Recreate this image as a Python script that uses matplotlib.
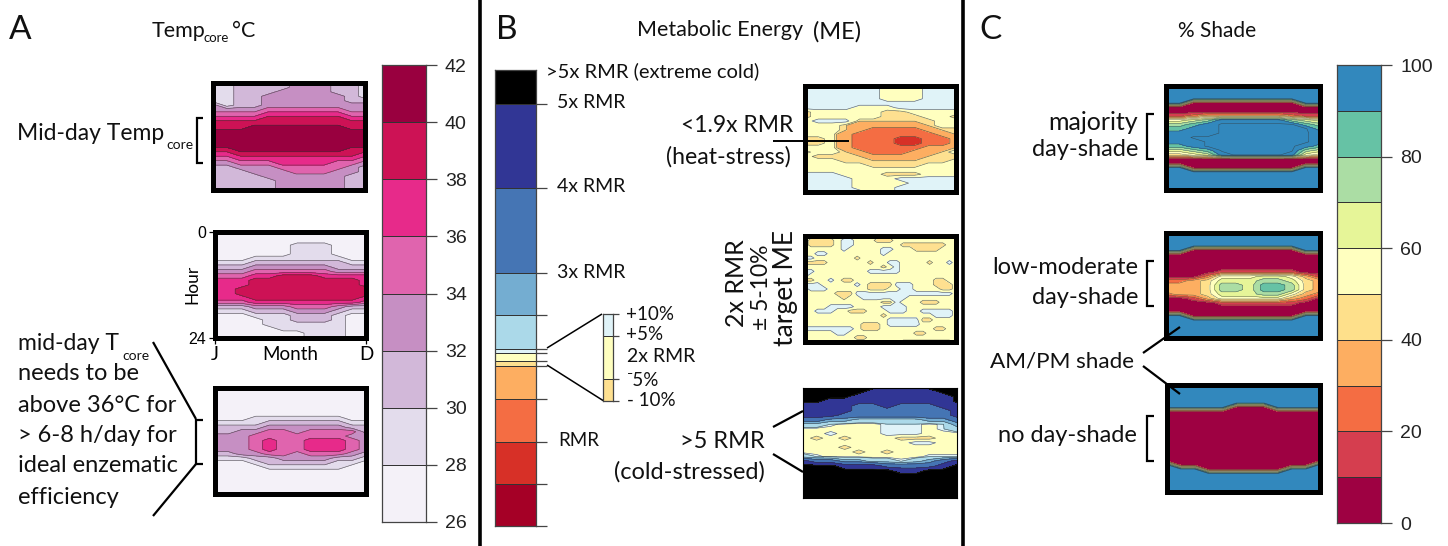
import matplotlib
matplotlib.use('Agg')
import matplotlib.pyplot as plt
from matplotlib.colors import ListedColormap
import numpy

W = 1448
H = 546

# colour bands
temp_levels = [26, 28, 30, 32, 34, 36, 38, 40, 42]
temp_mids = [27, 29, 31, 33, 35, 37, 39, 41]
temp_colors = ['#f4f1f8', '#e3dcec', '#d2b8d9', '#c68fc3', '#e064ae', '#e72a8a', '#cd1255', '#99003f']
temp_ticks = [26, 28, 30, 32, 34, 36, 38, 40, 42]

rmr_levels = [0, 0.5, 1, 1.5, 1.9, 1.95, 2.05, 2.1, 2.5, 3, 4, 5, 5.4]
rmr_mids = [0.25, 0.75, 1.25, 1.7, 1.91, 2.0, 2.09, 2.3, 2.75, 3.5, 4.5, 5.2]
rmr_colors = ['#a50026', '#d73027', '#f46d43', '#fdae61', '#fee090', '#ffffbf',
              '#e0f3f8', '#abd9e9', '#74add1', '#4575b4', '#313695', '#000000']
rmr_ticks = [0, 0.5, 1, 1.5, 1.9, 1.95, 2.05, 2.1, 2.5, 3, 4, 5]

shade_levels = [0, 10, 20, 30, 40, 50, 60, 70, 80, 90, 100]
shade_colors = ['#9e0142', '#d53e4f', '#f46d43', '#fdae61', '#fee08b',
                '#ffffbf', '#e6f598', '#abdda4', '#66c2a5', '#3288bd']
shade_ticks = [0, 20, 40, 60, 80, 100]
# the maps also have a faint line just below 100 %
shade_map_levels = [0, 10, 20, 30, 40, 50, 60, 70, 80, 90, 99, 101]
shade_mids = [5, 15, 25, 35, 45, 55, 65, 75, 85, 95, 100]
shade_map_colors = shade_colors + ['#3288bd']

# each character is the colour band of one month (column) and hour (row)
temp_high = [
    '112222333221', '112222333221', '112223333221', '112233333321', '112233333322',
    '312233333333', '333344444433', '444455555544', '555566666655', '666666666666',
    '666777777766', '777777777777', '777777777777', '777777777777', '777777777777',
    '667777777766', '556666666665', '445555555554', '334445555443', '223334444432',
    '222333444332', '222233333322', '222223333322', '222223333322', '222223333322']
temp_mid = [
    '000000000000', '000000000000', '000000000000', '000000111000', '000000111000',
    '000000111000', '000111111100', '111222222211', '222333333222', '333444444333',
    '444556665555', '555666666665', '555666666665', '556666666666', '556666666666',
    '555666666665', '444555555554', '222333444322', '111222333211', '000111222100',
    '000011222100', '000011111100', '000001111100', '000000011100', '000000011100']
temp_low = [
    '000000000000', '000000000000', '000000000000', '000000000000', '000000000000',
    '000000000000', '000000000000', '000111111100', '111122222211', '222233333322',
    '223344344442', '333444444433', '333454455543', '333454455543', '333454455543',
    '223344344432', '111223333221', '000122222110', '000011111100', '000000000000',
    '000000000000', '000000000000', '000000000000', '000000000000', '000000000000']

rmr_high = [
    '666666555666', '666666555666', '666666555666', '666666555666', '666666666666',
    '666655566666', '455555445555', '455555444554', '566644444455', '555433333455',
    '555432222344', '555322222234', '445322211223', '445322211223', '555322222334',
    '455432223345', '544443333444', '555444444445', '555554444555', '555555555555',
    '666555444555', '666655566666', '666655556666', '666655566666', '666665566666']
rmr_mid = [
    '555555555555555666555555', '544445665554445555555555', '544445665555555444444455',
    '555555655555665554444555', '556655555555655555555555', '665555554555555555555555',
    '444455555545566555545565', '555555555555456555555555', '665555555566666555555555',
    '655555555555555555555555', '445565445555555555554455', '666555556544446665554445',
    '566655555544455665555445', '555554446666666666666665', '555555455666666655555555',
    '555555555555446555444555', '555566665555666655555555', '556665544455566655666665',
    '555555555555455555556665', '555555555555566666445555', '555555555444566666555555',
    '666666665444555555554455', '555556655555555554455555', '555555554455555555555555',
    '555555555555555666666665']
rmr_low = [
    'bbbbbbbbbbbb', 'bbbbbaaaaabb', 'bbbbaaaaaaab', 'bbaaaaaaaaab', 'aaaa99a999aa',
    'aaaa9999999a', 'aaa99999999a', '998877777889', '776555666568', '555555666567',
    '556555666555', '545455544455', '555555556655', '555455555555', '555545455555',
    '765555555666', 'a9988776789a', 'bbbaaa9999ab', 'bbbbbbbaabbb', 'bbbbbbbbbbbb',
    'bbbbbbbbbbbb', 'bbbbbbbbbbbb', 'bbbbbbbbbbbb', 'bbbbbbbbbbbb', 'bbbbbbbbbbbb']

shade_most = [
    '999999999999', '999999999999', '999999999999', '999999999999', '990000000099',
    '000000000000', '000000000000', '112333333211', '556799999765', '7789aaaaaa87',
    '8899aaaaaaa8', '9999aaaaaaa9', '99aaaaaaaaa9', '999aaaaaaaa9', '889aaaaaaa98',
    '6678aaaaaa76', '44569aaaa954', '000000000000', '000000000000', '990000000099',
    '999999999999', '999999999999', '999999999999', '999999999999', '999999999999']
shade_some = [
    '999999999999', '999999999999', '999999999999', '999999999999', '990000000099',
    '000000000000', '000000000000', '000000000000', '000000000000', '000011111100',
    '000255566531', '223466677643', '333477688743', '333477688743', '233466677532',
    '001355555320', '000011111100', '000000000000', '000000000000', '990000000099',
    '999999999999', '999999999999', '999999999999', '999999999999', '999999999999']
shade_none = [
    '999999999999', '999999999999', '999999999999', '999999999999', '999999999999',
    '999990009999', '000000000000', '000000000000', '000000000000', '000000000000',
    '000000000000', '000000000000', '000000000000', '000000000000', '000000000000',
    '000000000000', '000000000000', '000000000000', '900000000009', '999000000999',
    '999999999999', '999999999999', '999999999999', '999999999999', '999999999999']

inset_levels = [-10, -5, 5, 10]
inset_colors = ['#fee090', '#ffffbf', '#e0f3f8']


def new_axes(x0, x1, y0, y1):
    return fig.add_axes([x0 / W, 1 - y1 / H, (x1 - x0) / W, (y1 - y0) / H])


def draw_map(box, rows, levels, mids, colors, border=3.6, line_w=0.45):
    ax = new_axes(*box)
    z = numpy.array([[mids[int(c, 16)] for c in r] for r in rows])
    x = numpy.linspace(1, 12, z.shape[1])
    y = numpy.linspace(0, 24, z.shape[0])
    ax.contourf(x, y, z, levels=levels, colors=colors)
    ax.contour(x, y, z, levels=levels[1:-1], colors='#333333', linewidths=line_w, alpha=0.75)
    ax.set_ylim(24, 0)
    ax.set_xticks([])
    ax.set_yticks([])
    for s in ax.spines.values():
        s.set_linewidth(border)
        s.set_color('black')
    return ax


def draw_bar(box, levels, colors, ticks, labels, tick_len=8):
    ax = new_axes(*box)
    cmap = ListedColormap(colors)
    c = numpy.arange(len(colors)).reshape(-1, 1)
    ax.pcolormesh([0, 1], levels, c, cmap=cmap, edgecolors='#333333', linewidth=0.7)
    ax.set_xticks([])
    ax.yaxis.tick_right()
    ax.set_yticks(ticks)
    ax.set_yticklabels(labels, fontfamily='Liberation Sans', fontsize=14, color='#222222')
    ax.tick_params(axis='y', length=tick_len, width=0.9, color='#444444', pad=6)
    for s in ax.spines.values():
        s.set_linewidth(0.9)
        s.set_color('#444444')
    return ax


def txt(x, y, s, size=17, ha='left', rot=0):
    over.text(x, y, s, fontsize=size, ha=ha, va='center', rotation=rot, color='#111111')


def line(xs, ys, lw=1.6):
    over.plot(xs, ys, color='black', lw=lw, solid_capstyle='butt', solid_joinstyle='miter')


plt.rcParams['font.family'] = ['Lato', 'DejaVu Sans']
fig = plt.figure(figsize=(W / 100, H / 100), dpi=100)

# panel A
draw_map((213, 365.5, 83, 189.5), temp_high, temp_levels, temp_mids, temp_colors)
ax2 = draw_map((214.5, 366, 232, 337.5), temp_mid, temp_levels, temp_mids, temp_colors)
ax2.set_xticks([1, 12])
ax2.set_xticklabels(['J', 'D'], fontsize=13.5)
ax2.set_yticks([0, 24])
ax2.set_yticklabels(['0', '24'], fontfamily='Liberation Sans', fontsize=11.5)
ax2.tick_params(length=4, width=0.9, pad=2)
ax2.set_xlabel('Month', fontsize=13.5)
ax2.xaxis.set_label_coords(0.5, -0.085, ax2.transAxes)
ax2.xaxis.label.set_va('top')
ax2.set_ylabel('Hour', fontsize=12.5)
ax2.yaxis.set_label_coords(-0.09, 0.5, ax2.transAxes)
draw_map((214.5, 366, 387.5, 493.5), temp_low, temp_levels, temp_mids, temp_colors)
draw_bar((382, 425.5, 65, 522), temp_levels, temp_colors, temp_ticks, [str(t) for t in temp_ticks])

# panel B
rmr_labels = ['' for t in rmr_ticks]
draw_bar((495, 536, 70, 526), rmr_levels, rmr_colors, rmr_ticks, rmr_labels)
draw_map((804.5, 956, 85.5, 192), rmr_high, rmr_levels, rmr_mids, rmr_colors)
draw_map((804.5, 956, 236, 342), rmr_mid, rmr_levels, rmr_mids, rmr_colors)
draw_map((802.5, 957.5, 387.5, 498), rmr_low, rmr_levels, rmr_mids, rmr_colors, border=0.8)
draw_bar((603, 613, 314, 400.7), inset_levels, inset_colors, inset_levels, ['', '', '', ''], tick_len=4.3)

# panel C
draw_map((1165.5, 1320, 85.5, 189.5), shade_most, shade_map_levels, shade_mids, shade_map_colors, line_w=0.35)
draw_map((1165.5, 1320, 232.5, 338), shade_some, shade_map_levels, shade_mids, shade_map_colors, line_w=0.35)
draw_map((1166.5, 1320, 385, 491.5), shade_none, shade_map_levels, shade_mids, shade_map_colors, line_w=0.35)
draw_bar((1337, 1381, 65, 523), shade_levels, shade_colors, shade_ticks, [str(t) for t in shade_ticks])

# text and lines go on a see-through layer in pixels
over = fig.add_axes([0, 0, 1, 1])
over.set_xlim(0, W)
over.set_ylim(H, 0)
over.axis('off')

line([480, 480], [0, H], 2.6)
line([963, 963], [0, H], 2.6)

txt(9, 30, 'A', 24)
txt(152, 31, 'Temp', 15.5)
txt(203, 38, 'core', 9.5)
txt(232, 31, '°C', 15.5)
txt(17, 133, 'Mid-day Temp', 16.5)
txt(166, 145, 'core', 10)
line([203, 197, 197, 203], [118, 118, 163, 163])
txt(18, 343, 'mid-day T', 16.5)
txt(122, 356, 'core', 10)
txt(18, 374, 'needs to be')
txt(18, 405, 'above 36°C for')
txt(18, 436, '> 6-8 h/day for')
txt(18, 466, 'ideal enzematic')
txt(18, 497, 'efficiency')
line([153, 196], [342, 419])
line([203, 196, 196, 203], [420, 420, 464, 464])
line([196, 153], [464, 516])

txt(496, 30, 'B', 24)
txt(637, 30, 'Metabolic Energy', 15.5)
txt(813, 32, '(ME)', 17)
txt(546, 71, '>5x RMR (extreme cold)', 14.5)
txt(557, 103, '5x RMR', 14)
txt(557, 187, '4x RMR', 14)
txt(557, 272, '3x RMR', 14)
txt(558, 440, 'RMR', 13.5)
txt(626, 314, '+10%', 13.5)
txt(626, 335, '+5%', 13.5)
txt(627, 357, '2x RMR', 14)
txt(627, 380, '⁻5%', 13.5)
txt(627, 401, '- 10%', 13.5)
line([547, 602], [348, 314], 1.1)
line([547, 603], [365, 400.5], 1.1)
txt(793, 125, '<1.9x RMR', 16.5, 'right')
txt(791, 157, '(heat-stress)', 16.7, 'right')
line([773, 849], [141, 141], 1.4)
txt(737, 283, '2x RMR', 18, 'center', 90)
txt(761, 287, '± 5-10%', 16.5, 'center', 90)
txt(786, 288, 'target ME', 19, 'center', 90)
txt(765, 442, '>5 RMR', 17, 'right')
txt(765, 472, '(cold-stressed)', 17, 'right')
line([773, 803], [427, 411])
line([773, 803], [454, 472])

txt(979, 30, 'C', 24)
txt(1217, 31, '% Shade', 15, 'center')
txt(1138, 122, 'majority', 18, 'right')
txt(1138, 150, 'day-shade', 17, 'right')
line([1154, 1147, 1147, 1154], [114, 114, 159, 159])
txt(1138, 267, 'low-moderate', 17, 'right')
txt(1138, 297, 'day-shade', 17, 'right')
line([1154, 1147, 1147, 1154], [261, 261, 306, 306])
txt(1134, 362, 'AM/PM shade', 16.2, 'right')
txt(1137, 436, 'no day-shade', 17, 'right')
line([1154, 1147, 1147, 1154], [416, 416, 461, 461])
line([1180, 1143], [327, 353])
line([1143, 1180], [366, 394])

fig.savefig('out.png', dpi=100)
